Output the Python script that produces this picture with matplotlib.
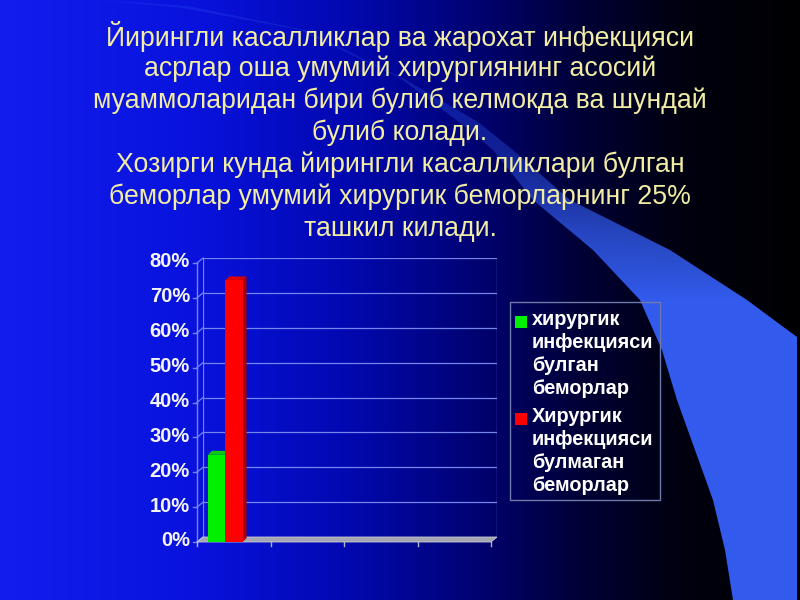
import numpy as np
import matplotlib
matplotlib.use("Agg")
import matplotlib.pyplot as plt
from matplotlib.patches import Polygon, Rectangle
from matplotlib.lines import Line2D
from matplotlib.transforms import offset_copy, IdentityTransform

# ---------------- data ----------------
categories = ["", "", "", ""]
series_names = ["хирургик\nинфекцияси\nбулган\nбеморлар",
                "Хирургик\nинфекцияси\nбулмаган\nбеморлар"]
with_infection = [25, np.nan, np.nan, np.nan]
without_infection = [75, np.nan, np.nan, np.nan]
y_ticks = [0, 10, 20, 30, 40, 50, 60, 70, 80]
y_tick_labels = [f"{t}%" for t in y_ticks]
title_lines = [
    "Йирингли касалликлар ва жарохат инфекцияси",
    "асрлар оша умумий хирургиянинг асосий",
    "муаммоларидан бири булиб келмокда ва шундай",
    "булиб колади.",
    "Хозирги кунда йирингли касалликлари булган",
    "беморлар умумий хирургик беморларнинг 25%",
    "ташкил килади.",
]

W, H = 800, 600
plt.rcParams['font.family'] = ['Liberation Sans', 'DejaVu Sans']
fig = plt.figure(figsize=(8, 6), dpi=100)
ID = IdentityTransform()

# ---------------- background ----------------
bg = fig.add_axes([0, 0, 1, 1])
bg.set_xlim(0, W)
bg.set_ylim(H, 0)
bg.axis('off')
xs = np.linspace(0, W, 400)
ys = np.linspace(0, H, 300)
sx = [0, 200, 350, 480, 580, 680, 800]
sc = np.array([(18, 30, 238), (8, 18, 220), (2, 8, 175), (0, 2, 112),
               (0, 0, 55), (0, 0, 16), (0, 0, 2)]) / 255.0
img = np.zeros((len(ys), len(xs), 3))
for ch in range(3):
    row = np.interp(xs, sx, sc[:, ch])
    img[:, :, ch] = row[None, :]
bg.imshow(img, extent=[0, W, H, 0], aspect='auto', interpolation='bilinear', zorder=0)

left_b = [(100, 0), (183, 8), (300, 30), (400, 78), (467, 128), (493, 150), (533, 200),
          (593, 250), (640, 300), (662, 350), (677, 400), (695, 450), (713, 500),
          (725, 550), (733, 600)]
right_b = [(797, 600), (797, 337), (747, 300), (670, 250), (570, 200), (513, 150),
           (478, 122), (406, 80), (305, 30), (188, 6), (100, 0)]
swoosh = Polygon(left_b + right_b, closed=True, facecolor='none', edgecolor='none',
                 transform=bg.transData)
bg.add_patch(swoosh)
simg = np.zeros((len(ys), len(xs), 4))
simg[:, :, 0] = 50 / 255
simg[:, :, 1] = 92 / 255
simg[:, :, 2] = 238 / 255
alpha = np.interp(ys, [0, 150, 230, 300, 600], [0.22, 0.35, 0.75, 1.0, 1.0])
simg[:, :, 3] = alpha[:, None]
im = bg.imshow(simg, extent=[0, W, H, 0], aspect='auto', interpolation='bilinear', zorder=1)
im.set_clip_path(swoosh)

# ---------------- title ----------------
for i, line in enumerate(title_lines):
    fig.text(0.5, 1 - (37 + 32 * i) / H, line, ha='center', va='center',
             fontsize=19.2, color='#f2eca4')

# ---------------- chart ----------------
bx0, bx1, by_top, by_bot = 203, 497, 258, 537
ax = fig.add_axes([bx0 / W, (H - by_bot) / H, (bx1 - bx0) / W, (by_bot - by_top) / H])
ax.set_xlim(0, len(categories))
ax.set_ylim(y_ticks[0], y_ticks[-1])
ax.patch.set_visible(False)
for s in ax.spines.values():
    s.set_visible(False)
ax.set_xticks([])
ax.set_yticks([])

DX, DY = -6, -5
front = offset_copy(ax.transData, fig=fig, x=DX, y=DY, units='dots')
grid_c = '#7585ec'

def disp(x, y, tr):
    return tr.transform((x, y))

# back wall gridlines and border
for t in y_ticks[1:]:
    ax.axhline(t, color=grid_c, lw=0.9, zorder=1)
ax.axvline(0, color=grid_c, lw=0.9)
ax.axvline(len(categories), color=grid_c, lw=0.9)
# side wall diagonals
for t in y_ticks:
    p0 = disp(0, t, front)
    p1 = disp(0, t, ax.transData)
    fig.add_artist(Line2D([p0[0], p1[0]], [p0[1], p1[1]], color=grid_c, lw=0.9, transform=ID))

# floor
f0 = disp(0, 0, front); f1 = disp(len(categories), 0, front)
b1 = disp(len(categories), 0, ax.transData); b0 = disp(0, 0, ax.transData)
fig.add_artist(Polygon([f0, f1, b1, b0], closed=True, facecolor='#a4a6b4',
                       edgecolor='#c8c8d0', lw=0.6, transform=ID, zorder=3))

# front y axis line + ticks + labels
ya0 = disp(0, y_ticks[0], front); ya1 = disp(0, y_ticks[-1], front)
fig.add_artist(Line2D([ya0[0], ya1[0]], [ya0[1], ya1[1]], color=grid_c, lw=1.0, transform=ID))
for t, lab in zip(y_ticks, y_tick_labels):
    p = disp(0, t, front)
    fig.add_artist(Line2D([p[0] - 4, p[0]], [p[1], p[1]], color=grid_c, lw=1.0, transform=ID))
    fig.text((p[0] - 7) / W, (p[1] + 1) / H, lab, ha='right', va='center', fontsize=14.5,
             fontweight='bold', color='#f4f4f8')
# x ticks on front edge
for k in range(len(categories) + 1):
    p = disp(k, 0, front)
    fig.add_artist(Line2D([p[0], p[0]], [p[1], p[1] - 4], color='#b0b4d0', lw=1.0, transform=ID))

# bars
bar_w = 0.235
offsets = [0.15, 0.15 + bar_w]
face = ['#00f000', '#ff0000']
top_c = ['#10c810', '#d80000']
side_c = ['#00a800', '#a80000']
BD = 4
for series, off, fc, tc, sc_ in zip([with_infection, without_infection], offsets, face, top_c, side_c):
    for k, v in enumerate(series):
        if np.isnan(v):
            continue
        x0 = k + off; x1 = x0 + bar_w
        bl = disp(x0, 0, front); br = disp(x1, 0, front)
        tl = disp(x0, v, front); tr_ = disp(x1, v, front)
        side = [br, tr_, (tr_[0] + BD, tr_[1] + BD), (br[0] + BD, br[1] + BD)]
        top = [tl, tr_, (tr_[0] + BD, tr_[1] + BD), (tl[0] + BD, tl[1] + BD)]
        fig.add_artist(Polygon(side, closed=True, facecolor=sc_, edgecolor='none', transform=ID, zorder=4))
        fig.add_artist(Polygon(top, closed=True, facecolor=tc, edgecolor='none', transform=ID, zorder=4))
        fig.add_artist(Polygon([bl, br, tr_, tl], closed=True, facecolor=fc, edgecolor='none',
                               transform=ID, zorder=5))

# ---------------- legend ----------------
lx0, lx1, ly0, ly1 = 510, 660, 302, 500
fig.add_artist(Rectangle((lx0 / W, 1 - ly1 / H), (lx1 - lx0) / W, (ly1 - ly0) / H,
                         facecolor='none', edgecolor='#6e7aa8', lw=1.0, transform=fig.transFigure))
leg_tops = [310, 407]
for name, fc, ty in zip(series_names, face, leg_tops):
    fig.add_artist(Rectangle((515 / W, 1 - (ty + 18) / H), 12 / W, 12 / H, facecolor=fc,
                             edgecolor='none', transform=fig.transFigure))
    fig.text(532 / W, 1 - ty / H, name, ha='left', va='top', fontsize=14.3,
             fontweight='bold', color='white', linespacing=1.26)

fig.savefig('out.png', dpi=100)
